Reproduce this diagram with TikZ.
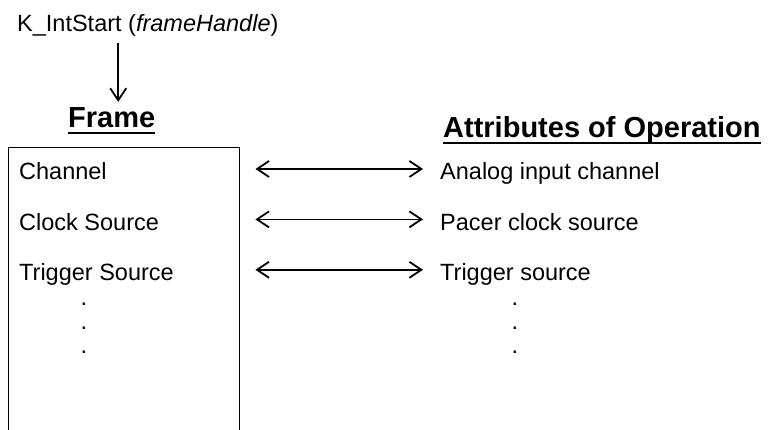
\documentclass[tikz,border=0pt]{standalone}
\usepackage{fontspec}
\setmainfont{Liberation Sans}
\usetikzlibrary{arrows.meta, positioning}

\begin{document}
\begin{tikzpicture}[
    x=1pt, y=-1pt,
    node distance=28pt,
    every node/.style={inner sep=0pt, font=\fontsize{23.5}{28}\selectfont},
    item/.style={anchor=base west, text height=22pt, text depth=0pt},
    heading/.style={anchor=base west, font=\fontsize{29}{34}\selectfont\bfseries},
    framebox/.style={draw, line width=1.4pt, minimum width=231pt, minimum height=300pt},
    uline/.style={line width=2pt},
    arrow/.style={line width=1.5pt, -{Straight Barb[length=12pt, width=16pt, line width=1.8pt]}},
    pair/.style={line width=1.5pt, {Straight Barb[length=12pt, width=16pt, line width=1.8pt]}-{Straight Barb[length=12pt, width=16pt, line width=1.8pt]},
        shorten <=15pt, shorten >=17pt}
]
    \useasboundingbox (0,0) rectangle (770,430);
    % Nodes
    \node (kint) [anchor=base west] at (17,32) {K\_IntStart (\textit{frameHandle})};
    \node (frm) [heading] at (68,128) {Frame};
    \node (attr) [heading] at (443,138) {Attributes of Operation};
    \node (box) [framebox, anchor=north west] at (8,147) {};
    \node (chan) [item] at (19,180) {Channel};
    \node (clk) [item, below=of chan.south west, anchor=north west] {Clock Source};
    \node (trg) [item, below=of clk.south west, anchor=north west] {Trigger Source};
    \node (ain) [item] at (440,180) {Analog input channel};
    \node (pcs) [item, below=of ain.south west, anchor=north west] {Pacer clock source};
    \node (tsrc) [item, below=of pcs.south west, anchor=north west] {Trigger source};
    \foreach \y in {305,329,353} {
        \node (ldot\y) [anchor=base] at (84,\y) {.};
        \node (rdot\y) [anchor=base] at (515,\y) {.};
    }
    % Underlines
    \draw [uline] ([yshift=-5pt]frm.base west) -- ([yshift=-5pt]frm.base east);
    \draw [uline] ([yshift=-5pt]attr.base west) -- ([yshift=-5pt]attr.base east);
    % Connections
    \draw [arrow, shorten <=6pt, shorten >=6pt] ([xshift=6.5pt]frm.north |- kint.south) -- ([xshift=6.5pt]frm.north);
    \foreach \r in {ain, pcs, tsrc}
        \draw [pair] (box.east |- \r.west) -- (\r.west);
\end{tikzpicture}
\end{document}
